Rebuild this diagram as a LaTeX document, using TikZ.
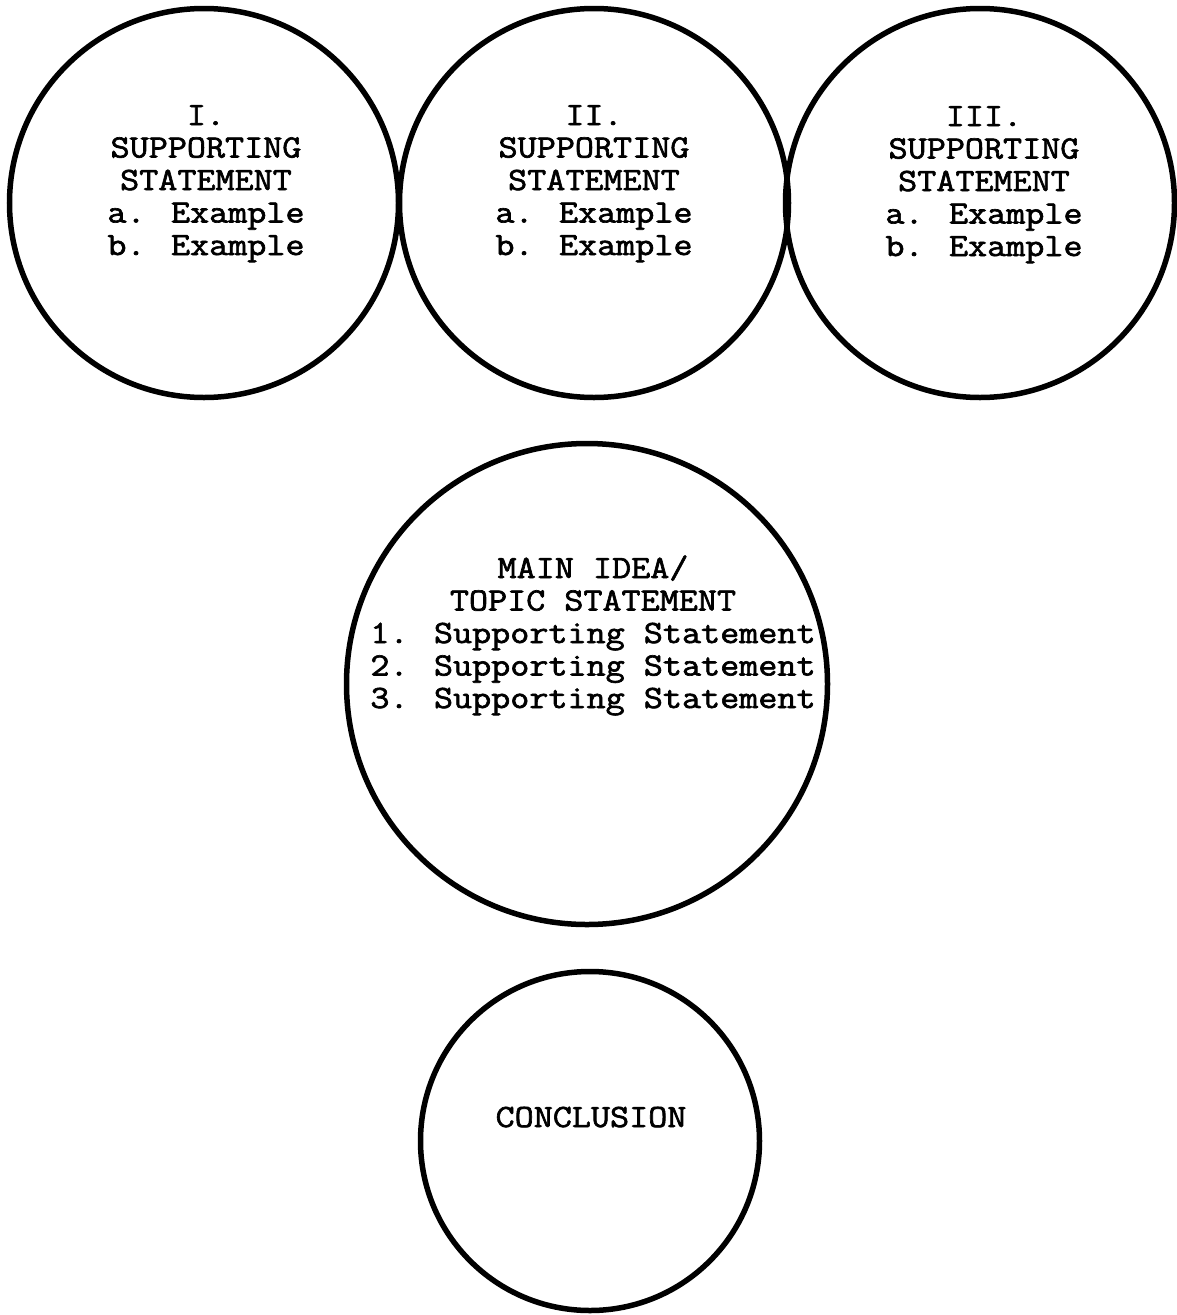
\documentclass[tikz,border=0pt]{standalone}
\usepackage{fontspec}
\setmainfont[FakeBold=2,FakeStretch=1.14]{Latin Modern Mono}
\begin{document}
\begin{tikzpicture}[x=1pt,y=-1pt,
  ring/.style={draw=black,line width=5.5pt,circle,inner sep=0pt},
  txt/.style={align=center,anchor=base,inner sep=0pt,font=\fontsize{32.5}{32.5}\selectfont}]
\useasboundingbox (0,0) rectangle (1177,1315);
\node[ring,minimum size=389pt] (c1) at (204,203) {};
\node[ring,minimum size=389pt] (c2) at (594,203) {};
\node[ring,minimum size=389pt] (c3) at (980,203) {};
\node[ring,minimum size=481pt] (cm) at (587,684) {};
\node[ring,minimum size=339pt] (cc) at (590,1141) {};
\node[txt] (t1) at (206,255) {I.\\SUPPORTING\\STATEMENT\\a. Example\\b. Example};
\node[txt] (t2) at (594,255) {II.\\SUPPORTING\\STATEMENT\\a. Example\\b. Example};
\node[txt] (t3) at (984,256) {III.\\SUPPORTING\\STATEMENT\\a. Example\\b. Example};
\node[txt] (tm) at (593,708) {MAIN IDEA/\\TOPIC STATEMENT\\1. Supporting Statement\\2. Supporting Statement\\3. Supporting Statement};
\node[txt] (tc) at (591,1127) {CONCLUSION};
\end{tikzpicture}
\end{document}
